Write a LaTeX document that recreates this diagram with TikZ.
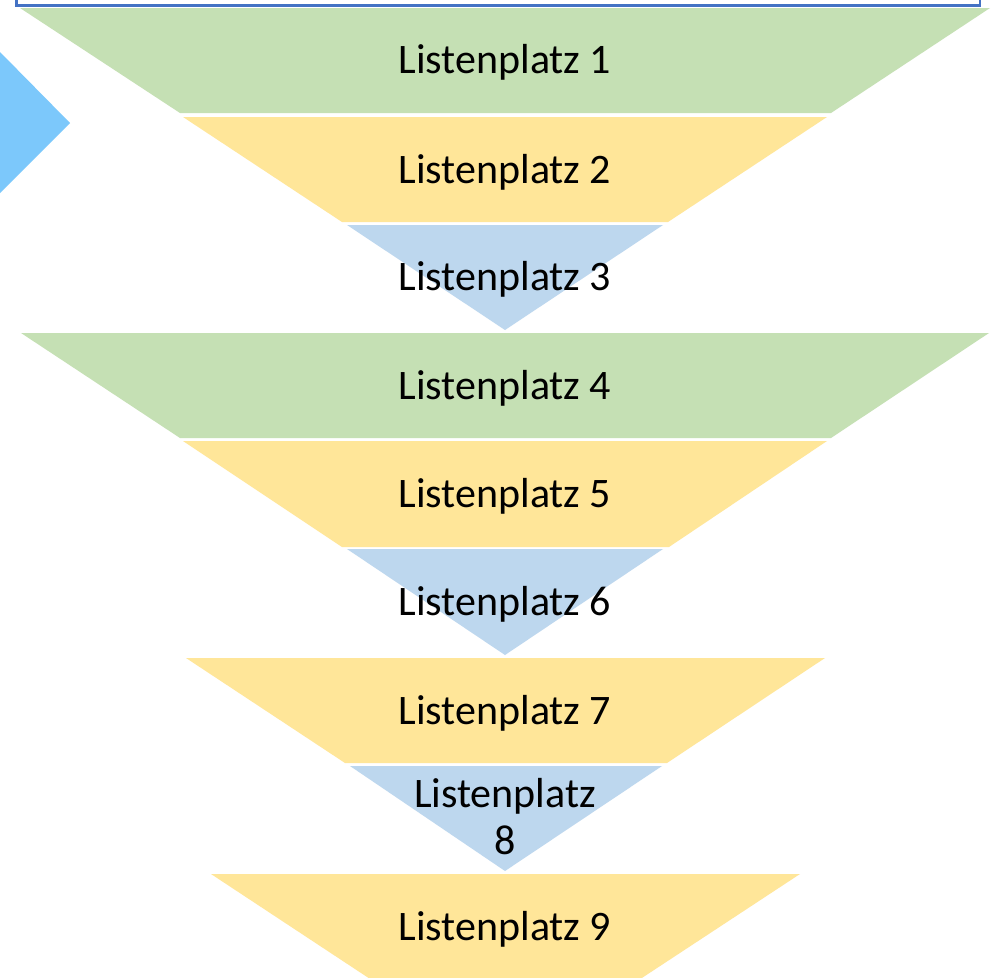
\documentclass[tikz,border=0pt]{standalone}
\usepackage{fontspec}
\setmainfont{Carlito}
\definecolor{lgreen}{HTML}{C5E0B4}
\definecolor{lyellow}{HTML}{FFE699}
\definecolor{lblue}{HTML}{BDD7EE}
\definecolor{skyarrow}{HTML}{7CC8FB}
\definecolor{frameblue}{HTML}{4472C4}
\begin{document}
\begin{tikzpicture}[x=1pt,y=-1pt,
  lbl/.style={anchor=base,inner sep=0pt,font=\fontsize{42}{47}\selectfont,text=black,align=center},
  seg/.style={draw=none}]
\useasboundingbox (0,0) rectangle (998,977);
\clip (0,0) rectangle (998,977);
\fill[white] (0,0) rectangle (998,977);
% frame at top
\draw[frameblue,line width=2.5pt] (16.5,-20) -- (16.5,5.5) -- (980,5.5) -- (980,-20);
% chevron on the left
\fill[skyarrow] (-10,42) -- (0,52) -- (70,123) -- (0,193) -- (-10,203) -- cycle;
% level 1
\fill[lgreen,seg] (20,8) -- (990,8) -- (831,113) -- (180,113) -- cycle;
\fill[lyellow,seg] (183,117) -- (827,117) -- (668,222) -- (342,222) -- cycle;
\fill[lblue,seg] (347,225) -- (663,225) -- (505,330) -- cycle;
% level 2
\fill[lgreen,seg] (21,333) -- (989,333) -- (831,438) -- (180,438) -- cycle;
\fill[lyellow,seg] (183,441) -- (827,441) -- (669,547) -- (342,547) -- cycle;
\fill[lblue,seg] (347,549) -- (663,549) -- (505,655) -- cycle;
% level 3
\fill[lyellow,seg] (186,658) -- (825,658) -- (667,763) -- (345,763) -- cycle;
\fill[lblue,seg] (350,766) -- (662,766) -- (505,871) -- cycle;
% level 4
\fill[lyellow,seg] (211,874) -- (800,874) -- (505,1068) -- cycle;
% labels
\node[lbl] (t1) at (505,73) {Listenplatz 1};
\node[lbl] (t2) at (505,183) {Listenplatz 2};
\node[lbl] (t3) at (505,290) {Listenplatz 3};
\node[lbl] (t4) at (505,399) {Listenplatz 4};
\node[lbl] (t5) at (505,507) {Listenplatz 5};
\node[lbl] (t6) at (505,615) {Listenplatz 6};
\node[lbl] (t7) at (505,724) {Listenplatz 7};
\node[lbl] (t8a) at (505,807) {Listenplatz};
\node[lbl] (t8b) at (505,854) {8};
\node[lbl] (t9) at (505,940) {Listenplatz 9};
\end{tikzpicture}
\end{document}
